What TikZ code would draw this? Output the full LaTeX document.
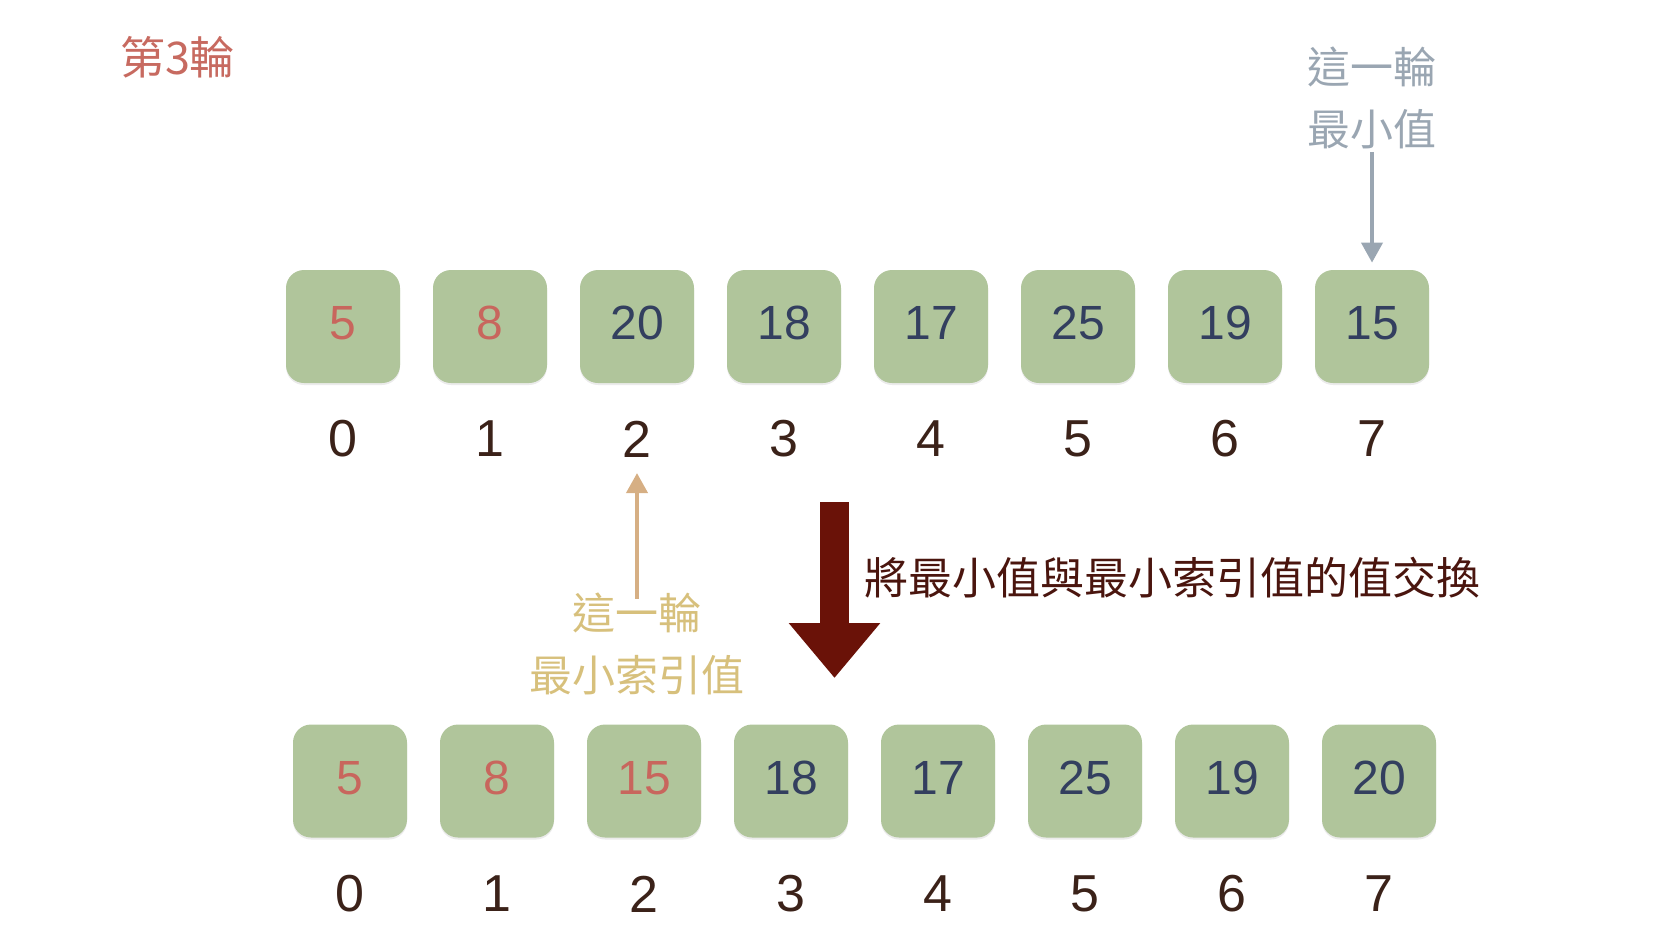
\documentclass[tikz,border=0pt]{standalone}
\usepackage{fontspec}
\setmainfont{Liberation Sans}
\newfontfamily\cjk{Noto Sans CJK TC}
\usepackage{tikz}
\usetikzlibrary{arrows.meta, shadows}
\usepackage{xcolor}

\definecolor{boxgreen}{HTML}{B0C59B}
\definecolor{numred}{HTML}{C8665D}
\definecolor{numnavy}{HTML}{333F5F}
\definecolor{idxbrown}{HTML}{3B2219}
\definecolor{titlered}{HTML}{C76A60}
\definecolor{labelgray}{HTML}{9AA6B2}
\definecolor{arrowtan}{HTML}{D6AF84}
\definecolor{labelgold}{HTML}{D7C07C}
\definecolor{swapred}{HTML}{6A1208}
\definecolor{swapbrown}{HTML}{4A150E}

\begin{document}
\begin{tikzpicture}[x=0.5pt, y=-0.5pt,
    cell/.style={fill=boxgreen, rounded corners=9pt, minimum width=57pt, minimum height=56.5pt, inner sep=0pt,
        text depth=3.5pt, font=\fontsize{24}{24}\selectfont,
        drop shadow={shadow xshift=0pt, shadow yshift=-1pt, opacity=0.08, fill=black}},
    idx/.style={text=idxbrown, inner sep=0pt, font=\fontsize{26}{26}\selectfont},
    cjklabel/.style={inner sep=0pt, align=center, font=\cjk\fontsize{21.5}{31}\selectfont}]

    \useasboundingbox (0,0) rectangle (1668,934);

    % --- round title ---
    \node[inner sep=0pt, text=titlered, font=\cjk\fontsize{22.5}{27}\selectfont] (round) at (177.5,57) {第3輪};

    % --- before the swap ---
    \node[cell, text=numred]  (T0) at (343,326.5)  {5};
    \node[cell, text=numred]  (T1) at (490,326.5)  {8};
    \node[cell, text=numnavy] (T2) at (637,326.5)  {20};
    \node[cell, text=numnavy] (T3) at (784,326.5)  {18};
    \node[cell, text=numnavy] (T4) at (931,326.5)  {17};
    \node[cell, text=numnavy] (T5) at (1078,326.5) {25};
    \node[cell, text=numnavy] (T6) at (1225,326.5) {19};
    \node[cell, text=numnavy] (T7) at (1372,326.5) {15};
    \foreach \i in {0,...,7}
        \node[idx] (TI\i) at (343+147*\i,439) {\i};

    % --- smallest value of this round ---
    \node[cjklabel, text=labelgray] (minlbl) at (1372,97.5) {這一輪\\最小值};
    \draw[line width=2pt, labelgray, -{Triangle[width=10.5pt, length=10pt]}, shorten <=1.5pt, shorten >=3.5pt] (minlbl) -- (T7);

    % --- smallest index of this round ---
    \node[cjklabel, text=labelgold] (idxlbl) at (637,644) {這一輪\\最小索引值};
    \draw[line width=2pt, arrowtan, -{Triangle[width=10.5pt, length=10pt]}, shorten <=-3pt, shorten >=7.75pt] (idxlbl) -- (TI2);

    % --- swap ---
    \coordinate (swapTop) at (834.5,502);
    \coordinate (swapTip) at (834.5,678);
    \draw[line width=14.5pt, swapred, -{Triangle[width=44pt, length=27.5pt]}] (swapTop) -- (swapTip);
    \node[inner sep=0pt, anchor=west, text=swapbrown, font=\cjk\fontsize{22}{26}\selectfont] (swapnote) at (864,578) {將最小值與最小索引值的值交換};

    % --- after the swap ---
    \node[cell, text=numred]  (B0) at (350,781)  {5};
    \node[cell, text=numred]  (B1) at (497,781)  {8};
    \node[cell, text=numred]  (B2) at (644,781)  {15};
    \node[cell, text=numnavy] (B3) at (791,781)  {18};
    \node[cell, text=numnavy] (B4) at (938,781)  {17};
    \node[cell, text=numnavy] (B5) at (1085,781) {25};
    \node[cell, text=numnavy] (B6) at (1232,781) {19};
    \node[cell, text=numnavy] (B7) at (1379,781) {20};
    \foreach \i in {0,...,7}
        \node[idx] (BI\i) at (350+147*\i,894) {\i};

\end{tikzpicture}
\end{document}
